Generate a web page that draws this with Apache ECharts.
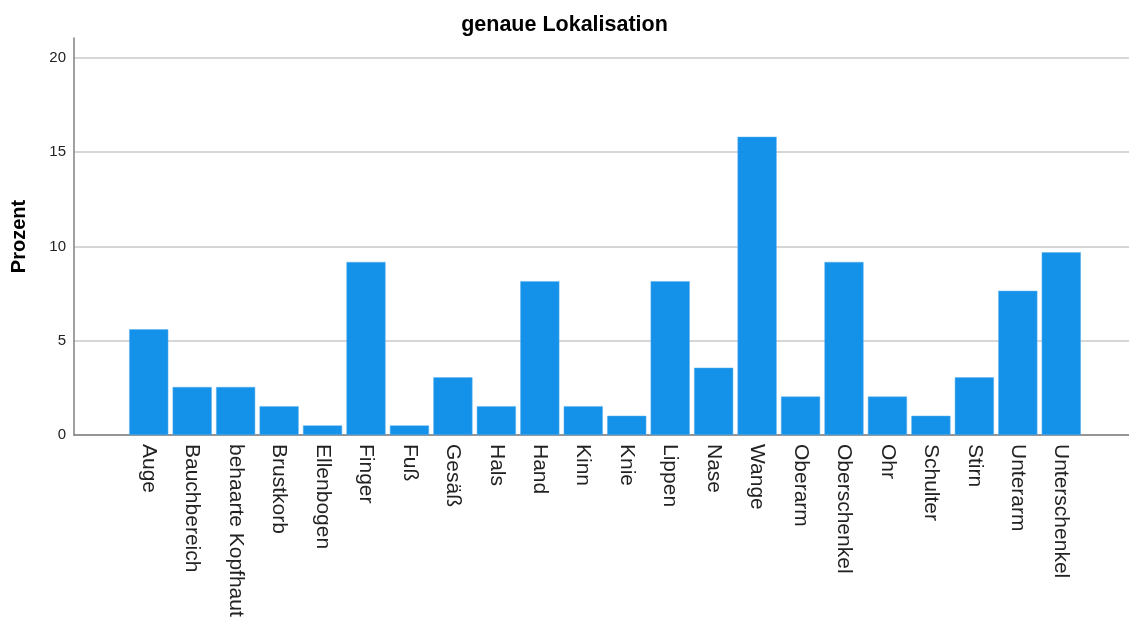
<!DOCTYPE html>
<html>
<head>
<meta charset="utf-8">
<script src="https://cdn.jsdelivr.net/npm/echarts@6/dist/echarts.min.js"></script>
<style>html,body{margin:0;padding:0;background:#fff}#c{width:1129px;height:621px}</style>
</head>
<body>
<div id="c"></div>
<script>
const titleText = 'genaue Lokalisation';
const yAxisTitle = 'Prozent';
const categories = ['Auge','Bauchbereich','behaarte Kopfhaut','Brustkorb','Ellenbogen','Finger','Fuß','Gesäß','Hals','Hand','Kinn','Knie','Lippen','Nase','Wange','Oberarm','Oberschenkel','Ohr','Schulter','Stirn','Unterarm','Unterschenkel'];
const percentValues = [5.61,2.55,2.55,1.53,0.51,9.18,0.51,3.06,1.53,8.16,1.53,1.02,8.16,3.57,15.82,2.04,9.18,2.04,1.02,3.06,7.65,9.69];
const yTicks = [0,5,10,15,20];

const font = 'Liberation Sans, Arial, sans-serif';
const yMax = 21.06;
const chart = echarts.init(document.getElementById('c'), null, {renderer:'canvas'});
chart.setOption({
  animation: false,
  backgroundColor: '#fff',
  title: {
    text: titleText, left: 'center', top: 9,
    textStyle: {fontFamily: font, fontSize: 21.5, fontWeight: 'bold', color: '#000'}
  },
  grid: [
    {left: 74, right: 0, top: 38, bottom: 186},
    {left: 127, right: 46, top: 38, bottom: 186}
  ],
  xAxis: [
    {gridIndex: 0, type: 'value', min: 0, max: 1, axisLabel: {show: false}, axisTick: {show: false}, splitLine: {show: false},
     axisLine: {show: true, onZero: false, lineStyle: {color: '#808080', width: 1.5}}},
    {gridIndex: 1, type: 'category', data: categories, axisLine: {show: false}, axisTick: {show: false},
     axisLabel: {rotate: -90, interval: 0, margin: 9, fontFamily: font, fontSize: 21, color: '#222'}}
  ],
  yAxis: [
    {gridIndex: 0, type: 'value', min: 0, max: yMax, interval: 5,
     name: yAxisTitle, nameLocation: 'middle', nameRotate: 90, nameGap: 45,
     nameTextStyle: {fontFamily: font, fontSize: 20, fontWeight: 'bold', color: '#000'},
     axisLine: {show: true, lineStyle: {color: '#808080', width: 1.5}},
     axisTick: {show: false},
     axisLabel: {margin: 8, fontFamily: font, fontSize: 15, color: '#222', showMaxLabel: false,
       formatter: v => yTicks.includes(v) ? String(v) : ''},
     splitLine: {show: true, showMaxLine: false, lineStyle: {color: '#c8c8c8', width: 1.5}}},
    {gridIndex: 1, type: 'value', min: 0, max: yMax, show: false, splitLine: {show: false}}
  ],
  series: [{
    type: 'bar', xAxisIndex: 1, yAxisIndex: 1, data: percentValues,
    barCategoryGap: '10%',
    itemStyle: {color: '#1491e8', borderColor: '#5fb2ef', borderWidth: 0.5}
  }]
});
</script>
</body>
</html>
